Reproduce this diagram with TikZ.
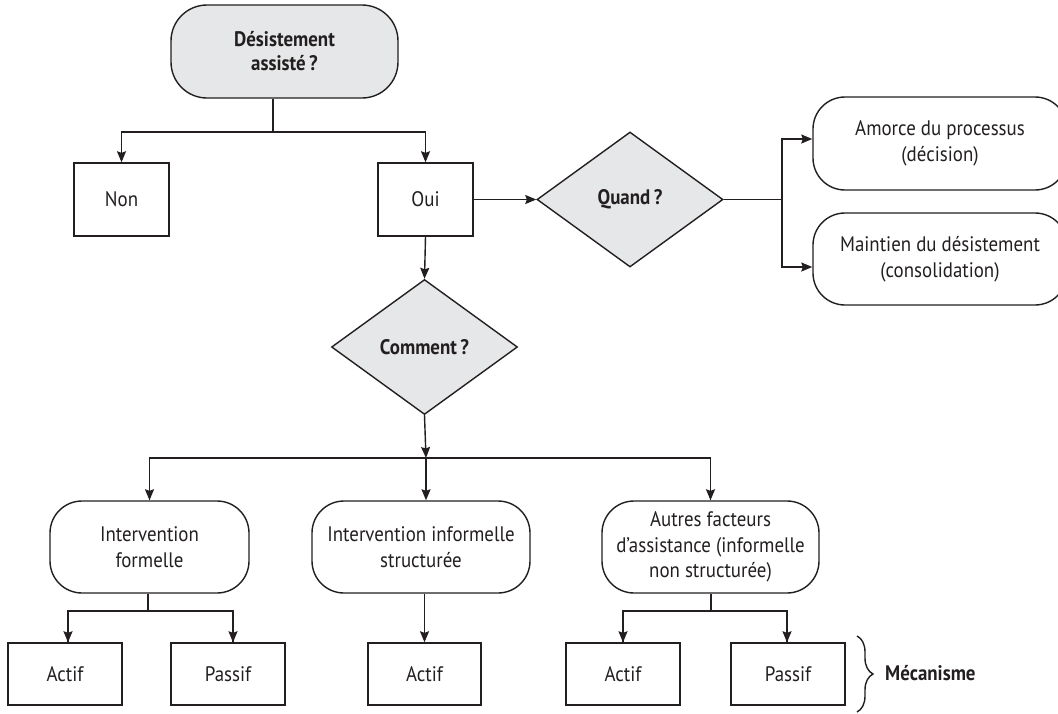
\documentclass[tikz,border=0pt]{standalone}
\usepackage{fontspec}
\setmainfont{PT Sans}[FakeStretch=0.9]
\usetikzlibrary{shapes.geometric,arrows.meta,decorations.pathreplacing}
\definecolor{ink}{HTML}{231F20}
\definecolor{shade}{HTML}{E6E7E8}
\begin{document}
\begin{tikzpicture}[x=1pt,y=-1pt,
  font=\fontsize{21}{25.5}\selectfont,
  base/.style={draw=ink, line width=1.4pt, text=ink, inner sep=0pt, align=center},
  roundbox/.style={base, rounded corners=32pt, minimum height=92pt},
  sqbox/.style={base, minimum width=95pt, minimum height=73pt},
  smallbox/.style={base, minimum width=114pt, minimum height=62pt},
  decision/.style={base, diamond, fill=shade, font=\fontsize{21}{25}\selectfont\bfseries,
                   minimum width=186pt, minimum height=135pt},
  arr/.style={draw=ink, line width=1.4pt, -{Stealth[length=11pt,width=9pt,inset=1.5pt]}},
  ln/.style={draw=ink, line width=1.4pt}]
\useasboundingbox (0,0) rectangle (1058,713);
\fill[white] (0,0) rectangle (1058,713);

% nodes
\node[base, rounded corners=36pt, fill=shade, minimum width=227pt, minimum height=93pt,
      font=\fontsize{21}{24}\selectfont\bfseries] (top) at (284.5,51.5) {Désistement\\assisté\,?};
\node[sqbox] (non) at (121.5,199.5) {Non};
\node[sqbox] (oui) at (425.5,199.5) {Oui};
\node[decision] (quand) at (630,199.5) {Quand\,?};
\node[decision] (comment) at (424.5,347) {Comment\,?};
\node[roundbox, minimum width=254pt, minimum height=93pt] (amorce) at (940,143.5) {Amorce du processus\\(décision)};
\node[roundbox, minimum width=254pt] (maintien) at (940,259) {Maintien du désistement\\(consolidation)};
\node[roundbox, minimum width=199pt] (formelle) at (149.5,547) {Intervention\\formelle};
\node[roundbox, minimum width=218pt] (informelle) at (421,547) {Intervention informelle\\structurée};
\node[roundbox, minimum width=217pt] (autres) at (710.5,547) {Autres facteurs\\d’assistance (informelle\\non structurée)};
\node[smallbox] (actifA) at (65,674) {Actif};
\node[smallbox] (passifA) at (228,674) {Passif};
\node[smallbox, minimum width=113pt] (actifB) at (424.5,674) {Actif};
\node[smallbox] (actifC) at (623,674) {Actif};
\node[smallbox] (passifC) at (788,674) {Passif};
\node[anchor=west, text=ink, font=\fontsize{21}{25}\selectfont\bfseries, inner sep=0pt] (mec) at (885,673) {Mécanisme};

% junction coordinates
\coordinate (j1) at (273,132);
\coordinate (jq) at (782,199.5);
\coordinate (jc) at (426,458);
\coordinate (jf) at (148,611);
\coordinate (ja) at (711,611);

% connectors
\draw[ln] (j1 |- top.south) -- (j1);
\draw[arr] (j1) -| (non.north);
\draw[arr] (j1) -| (oui.north);
\draw[arr] (oui.east) -- (quand.west);
\draw[arr] (oui.south) -- (comment.north);
\draw[ln] (quand.east) -- (jq);
\draw[arr] (jq) |- ([yshift=4.5pt]amorce.west);
\draw[arr] (jq) |- ([yshift=-8pt]maintien.west);
\draw[arr] (comment.south) -- (jc);
\draw[ln] (jc) -| (formelle.north);
\draw[ln] (jc) -| (autres.north);
\draw[arr] (jc -| formelle.north) -- (formelle.north);
\draw[arr] (jc -| autres.north) -- (autres.north);
\draw[arr] (jc) -- (jc |- informelle.north);
\draw[ln] (jf |- formelle.south) -- (jf);
\draw[ln] (jf) -| ([xshift=3pt]actifA.north);
\draw[ln] (jf) -| ([xshift=5pt]passifA.north);
\draw[arr] (jf -| actifA.north) ++(3pt,0) -- ([xshift=3pt]actifA.north);
\draw[arr] (jf -| passifA.north) ++(5pt,0) -- ([xshift=5pt]passifA.north);
\draw[arr] (actifB.north |- informelle.south) -- (actifB.north);
\draw[ln] (ja |- autres.south) -- (ja);
\draw[ln] (ja) -| (actifC.north);
\draw[ln] (ja) -| ([xshift=-1pt]passifC.north);
\draw[arr] (ja -| actifC.north) -- (actifC.north);
\draw[arr] (ja -| passifC.north) ++(-1pt,0) -- ([xshift=-1pt]passifC.north);

% brace
\draw[ln, decorate, decoration={brace, amplitude=16pt}] (857,636) -- (857,712);
\end{tikzpicture}
\end{document}
